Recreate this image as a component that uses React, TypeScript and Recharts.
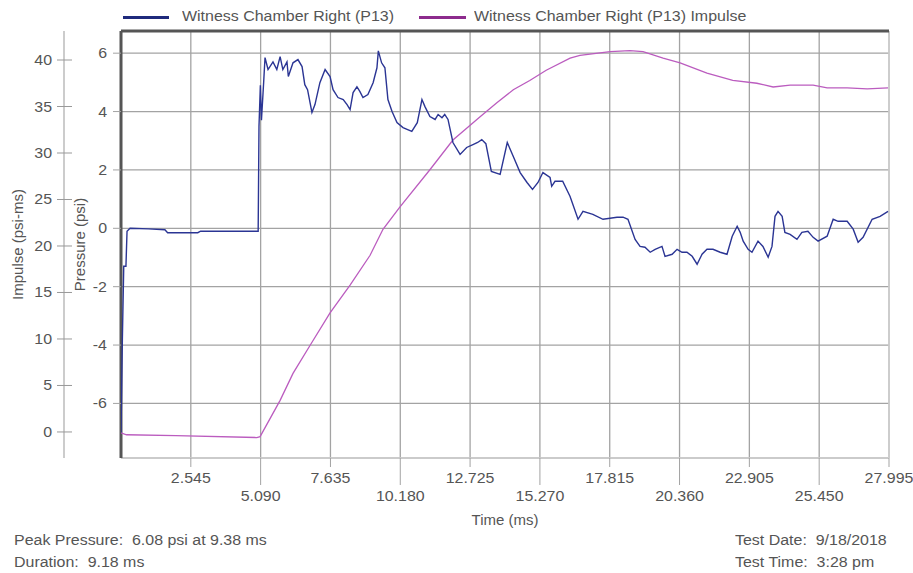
import React from 'react';
import { LineChart, Line, XAxis, YAxis, CartesianGrid, ReferenceLine } from 'recharts';

// pressure trace (ms, psi)
const pressureTime = [
  0, 0.05, 0.1, 0.18, 0.22, 0.33, 1.0, 1.6, 1.7, 2.8, 2.9, 4.95,
  5.0, 5.03, 5.08, 5.12, 5.2, 5.25, 5.36, 5.54, 5.68, 5.8, 5.9, 6.05, 6.1, 6.27, 6.45, 6.6, 6.7, 6.8, 6.96,
  7.07, 7.25, 7.44, 7.62, 7.73, 7.91, 8.1, 8.24, 8.35, 8.46, 8.6, 8.71, 8.82, 9.0, 9.19, 9.33, 9.38,
  9.5, 9.62, 9.73, 9.88, 10.06, 10.28, 10.6, 10.8, 10.97, 11.08, 11.26, 11.45, 11.56, 11.7, 11.8, 11.92,
  12.1, 12.36, 12.6, 12.83, 13.0, 13.15, 13.3, 13.5, 13.82, 14.08, 14.3, 14.55, 14.8, 15.0, 15.2, 15.38,
  15.64, 15.7, 15.82, 16.1, 16.37, 16.66, 16.84, 17.2, 17.57, 18.08, 18.3, 18.48, 18.74, 18.92, 19.1,
  19.29, 19.47, 19.72, 19.83, 20.09, 20.27, 20.45, 20.63, 20.82, 21.0, 21.18, 21.36, 21.58, 21.84, 22.09,
  22.28, 22.46, 22.57, 22.68, 22.86, 23.0, 23.22, 23.4, 23.59, 23.73, 23.84, 23.95, 24.1, 24.2, 24.39,
  24.64, 24.82, 25.04, 25.23, 25.41, 25.74, 25.96, 26.14, 26.47, 26.69, 26.87, 27.05, 27.38, 27.67, 27.96,
];
const pressureValues = [
  -7.0, -3.8, -1.3, -1.3, -0.1, 0.0, -0.02, -0.05, -0.15, -0.15, -0.1, -0.1,
  -0.1, 3.5, 4.9, 3.7, 5.0, 5.85, 5.44, 5.7, 5.44, 5.88, 5.44, 5.7, 5.2, 5.67, 5.78, 5.54, 4.92, 4.75, 3.97,
  4.24, 4.99, 5.44, 5.2, 4.75, 4.48, 4.41, 4.24, 4.07, 4.65, 4.85, 4.68, 4.48, 4.58, 4.99, 5.5, 6.08,
  5.67, 5.5, 4.41, 4.0, 3.62, 3.45, 3.32, 3.62, 4.41, 4.17, 3.83, 3.73, 3.9, 3.79, 3.9, 3.73,
  2.94, 2.53, 2.77, 2.87, 2.94, 3.04, 2.9, 1.95, 1.85, 2.94, 2.46, 1.91, 1.57, 1.33, 1.57, 1.91,
  1.74, 1.44, 1.61, 1.61, 1.09, 0.31, 0.58, 0.48, 0.31, 0.38, 0.38, 0.31, -0.38, -0.62, -0.65,
  -0.82, -0.72, -0.62, -0.96, -0.89, -0.72, -0.82, -0.82, -0.96, -1.23, -0.89, -0.72, -0.72, -0.82, -0.89,
  -0.27, 0.07, -0.14, -0.44, -0.72, -0.82, -0.44, -0.62, -0.99, -0.62, 0.41, 0.58, 0.41, -0.14, -0.21,
  -0.38, -0.14, -0.1, -0.31, -0.44, -0.27, 0.31, 0.24, 0.24, -0.03, -0.48, -0.31, 0.31, 0.41, 0.58,
];

// impulse trace (ms, psi-ms)
const impulseTime = [
  0, 0.2, 2.0, 4.95, 5.07, 5.8, 6.27, 6.9, 7.62, 8.35, 9.08, 9.55, 10.17, 11.26, 12.1, 13.09, 13.7,
  14.3, 14.9, 15.5, 16.37, 16.73, 17.83, 18.55, 19.03, 19.76, 20.38, 21.36, 22.3, 23.18, 23.77, 24.39,
  25.23, 25.74, 26.47, 27.2, 27.96,
];
const impulseValues = [
  -0.1, -0.3, -0.4, -0.6, -0.5, 3.4, 6.3, 9.35, 12.8, 15.8, 19.0, 21.8, 24.2, 28.2, 31.4, 33.9, 35.4,
  36.8, 37.8, 38.9, 40.2, 40.5, 40.9, 41.0, 40.9, 40.2, 39.7, 38.6, 37.8, 37.5, 37.1, 37.3,
  37.3, 37.0, 37.0, 36.9, 37.0,
];

const timeTicks = [2.545, 5.09, 7.635, 10.18, 12.725, 15.27, 17.815, 20.36, 22.905, 25.45, 27.995];
const pressureTicks = [-6, -4, -2, 0, 2, 4, 6];
const pressureMinor = [-7.5, -6.5, -5.5, -4.5, -3.5, -2.5, -1.5, -0.5, 0.5, 1.5, 2.5, 3.5, 4.5, 5.5, 6.5];
const impulseTicks = [0, 5, 10, 15, 20, 25, 30, 35, 40];

const T_MAX = 27.995;
const P_DOMAIN: [number, number] = [-7.87, 6.76];
const I_DOMAIN: [number, number] = [-2.8, 43.12];

const pressureData = pressureTime.map((t, i) => ({ t, p: pressureValues[i] }));
const impulseData = impulseTime.map((t, i) => ({ t, imp: impulseValues[i] }));

const FONT = '"Liberation Sans", Arial, sans-serif';
const TEXT = '#555';
const GRID = '#a3a3a3';
const STRETCH = 1.14; // the source's text runs wide

function Wide({ x, y, anchor, children }: any) {
  return (
    <g transform={`translate(${x},${y}) scale(${STRETCH},1)`}>
      <text x={0} y={0} textAnchor={anchor} fill={TEXT} fontSize={14} fontFamily={FONT}>
        {children}
      </text>
    </g>
  );
}

function TimeTick(props: any) {
  const { x, y, payload } = props;
  const upper = Math.round(payload.value / 2.545) % 2 === 1;
  return (
    <g>
      <line x1={x} y1={y} x2={x} y2={y + (upper ? 9 : 27)} stroke={GRID} strokeWidth={1} />
      <Wide x={x} y={y + (upper ? 25 : 43)} anchor="middle">
        {payload.value.toFixed(3)}
      </Wide>
    </g>
  );
}

function PressureTick(props: any) {
  const { x, y, payload } = props;
  return <Wide x={x} y={y + 5} anchor="end">{payload.value}</Wide>;
}

function ImpulseTick(props: any) {
  const { x, y, payload } = props;
  return (
    <g>
      <line x1={x + 5} y1={y} x2={x + 20} y2={y} stroke="#999" strokeWidth={1} />
      <Wide x={x} y={y + 5} anchor="end">{payload.value}</Wide>
    </g>
  );
}

const wideText = {
  position: 'absolute' as const,
  fontSize: 14,
  color: TEXT,
  whiteSpace: 'pre' as const,
  transform: `scaleX(${STRETCH})`,
  transformOrigin: '0 0',
};

function Footer() {
  return (
    <>
      <div style={{ ...wideText, left: 14, top: 532 }}>Peak Pressure:  6.08 psi at 9.38 ms</div>
      <div style={{ ...wideText, left: 14, top: 554 }}>Duration:  9.18 ms</div>
      <div style={{ ...wideText, left: 735, top: 532 }}>Test Date:  9/18/2018</div>
      <div style={{ ...wideText, left: 735, top: 554 }}>Test Time:  3:28 pm</div>
    </>
  );
}

function Legend() {
  return (
    <>
      <div style={{ position: 'absolute', left: 123, top: 16, width: 46, height: 3, background: '#1f2a7c' }} />
      <div style={{ ...wideText, top: 8, left: 182 }}>Witness Chamber Right (P13)</div>
      <div style={{ position: 'absolute', left: 419, top: 16, width: 47, height: 3, background: '#8d2b8d' }} />
      <div style={{ ...wideText, top: 8, left: 474 }}>Witness Chamber Right (P13) Impulse</div>
    </>
  );
}

export default function App() {
  return (
    <div style={{ position: 'absolute', left: 0, top: 0, width: 913, height: 573, background: '#fff', fontFamily: FONT }}>
      <Legend />
      <LineChart width={913} height={573} margin={{ top: 31, right: 24, bottom: 45, left: 0 }}>
        <CartesianGrid yAxisId="a" stroke={GRID} strokeWidth={1.3} />
        <XAxis
          dataKey="t"
          type="number"
          domain={[0, T_MAX]}
          ticks={timeTicks}
          interval={0}
          allowDataOverflow
          axisLine={false}
          tickLine={false}
          tickSize={0}
          tickMargin={0}
          height={70}
          tick={<TimeTick />}
          label={{ value: 'Time (ms)', position: 'insideBottom', offset: 3, style: { fill: TEXT, fontSize: 15, fontFamily: FONT } }}
        />
        <YAxis
          yAxisId="a"
          domain={P_DOMAIN}
          ticks={pressureTicks}
          allowDataOverflow
          width={57}
          axisLine={false}
          tickSize={8}
          tickMargin={6}
          tickLine={{ stroke: GRID }}
          tick={<PressureTick />}
          label={{ value: 'Pressure (psi)', angle: -90, position: 'insideLeft', offset: 16, style: { textAnchor: 'middle', fill: TEXT, fontSize: 15, fontFamily: FONT } }}
        />
        <YAxis
          yAxisId="b"
          domain={I_DOMAIN}
          ticks={impulseTicks}
          allowDataOverflow
          width={64}
          axisLine={{ stroke: '#999' }}
          tickLine={false}
          tickSize={0}
          tickMargin={12}
          tick={<ImpulseTick />}
          label={{ value: 'Impulse (psi-ms)', angle: -90, position: 'insideLeft', offset: 18, style: { textAnchor: 'middle', fill: TEXT, fontSize: 15, fontFamily: FONT } }}
        />
        <YAxis
          yAxisId="c"
          domain={P_DOMAIN}
          ticks={pressureMinor}
          allowDataOverflow
          mirror
          width={0}
          axisLine={false}
          tickSize={6}
          tickLine={{ stroke: '#c8c8c8' }}
          tick={() => <g />}
        />
        <ReferenceLine yAxisId="a" x={T_MAX} stroke="#d0d0d0" strokeWidth={1.5} />
        <ReferenceLine yAxisId="a" y={P_DOMAIN[0]} stroke="#d0d0d0" strokeWidth={1.5} />
        <ReferenceLine yAxisId="a" y={P_DOMAIN[1]} stroke="#555" strokeWidth={3} />
        <ReferenceLine yAxisId="a" x={0} stroke="#555" strokeWidth={3} />
        <Line
          yAxisId="b"
          data={impulseData}
          dataKey="imp"
          type="linear"
          stroke="#bb5cbf"
          strokeWidth={1.3}
          dot={false}
          isAnimationActive={false}
        />
        <Line
          yAxisId="a"
          data={pressureData}
          dataKey="p"
          type="linear"
          stroke="#2b3594"
          strokeWidth={1.4}
          dot={false}
          isAnimationActive={false}
        />
      </LineChart>
      <Footer />
    </div>
  );
}
